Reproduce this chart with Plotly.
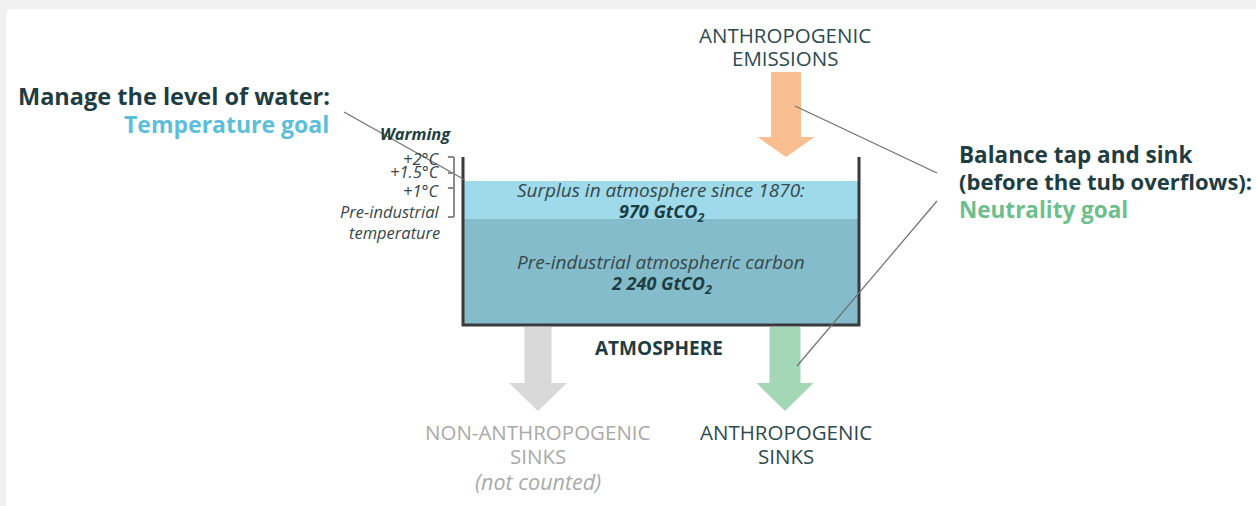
import plotly.graph_objects as go

# ---- content ----
title_left = ["Manage the level of water:", "Temperature goal"]
title_right = ["Balance tap and sink", "(before the tub overflows):", "Neutrality goal"]
warming_labels = ["+2°C", "+1.5°C", "+1°C", "Pre-industrial", "temperature"]
layer_labels = ["Surplus in atmosphere since 1870:", "Pre-industrial atmospheric carbon"]
layer_values_gt = [970, 2240]
flow_labels = [["ANTHROPOGENIC", "EMISSIONS"], ["NON-ANTHROPOGENIC", "SINKS"], ["ANTHROPOGENIC", "SINKS"]]

W, H = 1256, 506
FONT = "Open Sans"
DARK = "#1e3d42"
BLUE = "#5bbfdc"
GREEN = "#6cbf8c"
GREYTXT = "#a9a9a9"
BODY = "#37474a"

fig = go.Figure()
fig.add_trace(go.Scatter(x=[0, W], y=[0, H], mode="markers", marker=dict(opacity=0), hoverinfo="skip", showlegend=False))

shapes = []
r = 6
x0c, y0c = 6, 9
shapes.append(dict(type="path", path=f"M {x0c+r},{y0c} L {W},{y0c} L {W},{H} L {x0c},{H} L {x0c},{y0c+r} Q {x0c},{y0c} {x0c+r},{y0c} Z",
                   fillcolor="white", line=dict(width=0), layer="below"))

# water layers
shapes.append(dict(type="rect", x0=464, x1=858, y0=219, y1=324, fillcolor="#84bccb", line=dict(width=0)))
shapes.append(dict(type="rect", x0=464, x1=858, y0=181, y1=219, fillcolor="#9fdaea", line=dict(width=0)))
# tub
shapes.append(dict(type="path", path="M 463,157 L 463,325 L 859,325 L 859,157", line=dict(color="#3a3a3a", width=3)))

def arrow(cx, sw, hw, y0, yh, ytip, color):
    return dict(type="path",
                path=f"M {cx-sw/2},{y0} L {cx+sw/2},{y0} L {cx+sw/2},{yh} L {cx+hw/2},{yh} L {cx},{ytip} L {cx-hw/2},{yh} L {cx-sw/2},{yh} Z",
                fillcolor=color, line=dict(width=0))

shapes.append(arrow(786, 30, 57, 72, 137, 157, "#f9bf91"))
shapes.append(arrow(538, 27, 58, 327, 383, 411, "#d9d9d9"))
shapes.append(arrow(785, 31, 57, 327, 383, 411, "#a3d7b6"))

line_style = dict(color="#707070", width=1.2)
shapes.append(dict(type="line", x0=344, y0=112, x1=465, y1=180, line=line_style))
shapes.append(dict(type="line", x0=795, y0=106, x1=937, y1=173, line=line_style))
shapes.append(dict(type="line", x0=797, y0=366, x1=937, y1=201, line=line_style))

bc = "#8a8a8a"
shapes.append(dict(type="line", x0=454, x1=454, y0=157, y1=217, line=dict(color=bc, width=2)))
for yy in [157, 173, 188, 217]:
    shapes.append(dict(type="line", x0=448, x1=454, y0=yy, y1=yy, line=dict(color=bc, width=2)))

ann = []
def t(x, y, text, size, color, xa="center", bold=False, italic=False):
    s = text
    if bold:
        s = f"<b>{s}</b>"
    if italic:
        s = f"<i>{s}</i>"
    ann.append(dict(x=x, y=y, text=s, showarrow=False, xanchor=xa, yanchor="middle",
                    font=dict(family=FONT, size=size, color=color)))

t(16, 96, title_left[0], 23.5, DARK, xa="left", bold=True)
t(331, 124, title_left[1], 23, BLUE, xa="right", bold=True)

t(453, 133, "Warming", 16.5, DARK, xa="right", bold=True, italic=True)
wy = [158, 171, 190, 211, 232]
for lab, yy in zip(warming_labels, wy):
    t(442, yy, lab, 16.5, BODY, xa="right", italic=True)

t(957, 154, title_right[0], 22.5, DARK, xa="left", bold=True)
t(957, 181, title_right[1], 22, DARK, xa="left", bold=True)
t(957, 209, title_right[2], 22.5, GREEN, xa="left", bold=True)

t(661, 190, layer_labels[0], 19, BODY, italic=True)
t(661, 212, f"{layer_values_gt[0]} GtCO<sub>2</sub>", 18, DARK, bold=True, italic=True)
t(661, 262, layer_labels[1], 19, BODY, italic=True)
v2 = f"{layer_values_gt[1]:,}".replace(",", " ")
t(661, 284, f"{v2} GtCO<sub>2</sub>", 18, DARK, bold=True, italic=True)

t(659, 348, "ATMOSPHERE", 19, DARK, bold=True)

for (l1, l2), cx, col in zip(flow_labels, [785, 538, 786], ["#2c4a4f", GREYTXT, "#2c4a4f"]):
    y1, y2 = (35, 58) if l2 == "EMISSIONS" else (432, 456)
    t(cx, y1, l1, 20.5, col)
    t(cx, y2, l2, 20.5, col)
t(538, 481, "(not counted)", 21.5, GREYTXT, italic=True)

fig.update_layout(
    width=W, height=H, margin=dict(l=0, r=0, t=0, b=0),
    paper_bgcolor="#f1f1f1", plot_bgcolor="rgba(0,0,0,0)",
    xaxis=dict(range=[0, W], visible=False, fixedrange=True),
    yaxis=dict(range=[H, 0], visible=False, fixedrange=True),
    shapes=shapes, annotations=ann, showlegend=False,
)
fig.write_html("out.html", config={"displayModeBar": False},
               post_script="document.body.style.margin='0';document.body.style.padding='0';document.body.style.overflow='hidden';")
